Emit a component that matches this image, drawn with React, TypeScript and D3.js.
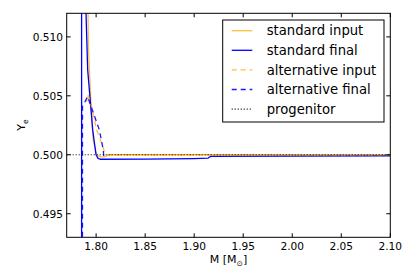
import React from 'react';
import * as d3 from 'd3';

// mass coordinate [Msun], electron fraction Ye
const standardInputM = [1.7905, 1.7922, 1.7945, 1.7969, 1.7999, 1.802, 1.805, 1.808, 1.811, 1.8133, 2.1];
const standardInputY = [0.52, 0.5089, 0.5048, 0.50127, 0.50024, 0.4999, 0.49982, 0.49982, 0.4999, 0.5, 0.5];

const standardFinalM = [1.7852, 1.7852, 1.7869, 1.7897, 1.7914, 1.7965, 1.7999, 1.802, 1.804, 1.85, 1.9, 1.9143, 1.9165, 2.0, 2.1];
const standardFinalY = [0.49, 0.52, 0.52, 0.512, 0.5072, 0.50211, 0.5, 0.4997, 0.49962, 0.49963, 0.49968, 0.49972, 0.49986, 0.49988, 0.4999];

const altInputM = [1.7903, 1.7913, 1.795, 1.8006, 1.805, 1.809, 1.8115, 2.1];
const altInputY = [0.5045, 0.50516, 0.5042, 0.5021, 0.5011, 0.50014, 0.5, 0.5];

const altFinalM = [1.7861, 1.7861, 1.7913, 1.797, 1.8033, 1.8073, 1.8078];
const altFinalY = [0.49, 0.50409, 0.50493, 0.5036, 0.50211, 0.50042, 0.4999];

const progenitorM = [1.77, 2.1];
const progenitorY = [0.5, 0.5];

const xTicks = [1.8, 1.85, 1.9, 1.95, 2.0, 2.05, 2.1];
const yTicks = [0.495, 0.5, 0.505, 0.51];

const legendLabels = ['standard input', 'standard final', 'alternative input', 'alternative final', 'progenitor'];

const ORANGE = '#ffa500';
const BLUE = '#0000ff';

const App: React.FC = () => {
  const left = 66.7, right = 390.3, top = 13.3, bottom = 237.3;
  const x = d3.scaleLinear().domain([1.77, 2.1]).range([left, right]);
  const y = d3.scaleLinear().domain([0.493, 0.512]).range([bottom, top]);

  const mkLine = (ms: number[], ys: number[]) =>
    d3.line<number>().x((d, i) => x(ms[i])).y((d, i) => y(ys[i]))(ms) || '';

  const series = [
    { d: mkLine(standardInputM, standardInputY), color: ORANGE, dash: undefined, op: 0.75, w: 1.3 },
    { d: mkLine(standardFinalM, standardFinalY), color: BLUE, dash: undefined, op: 1, w: 1.3 },
    { d: mkLine(altInputM, altInputY), color: ORANGE, dash: '5,4', op: 0.75, w: 1.3 },
    { d: mkLine(altFinalM, altFinalY), color: BLUE, dash: '5,4', op: 0.9, w: 1.3 },
    { d: mkLine(progenitorM, progenitorY), color: '#000', dash: '1,2', op: 1, w: 1.1 },
  ];

  const font = 'DejaVu Sans, sans-serif';
  const tl = 4;

  return (
    <svg width={415} height={280} style={{ position: 'absolute', left: 0, top: 0, background: '#fff' }} fontFamily={font}>
      <defs>
        <clipPath id="plotclip">
          <rect x={left} y={top} width={right - left} height={bottom - top} />
        </clipPath>
      </defs>
      <rect x={0} y={0} width={415} height={280} fill="#fff" />
      <g clipPath="url(#plotclip)">
        {series.map((s, i) => (
          <path key={i} d={s.d} fill="none" stroke={s.color} strokeOpacity={s.op} strokeWidth={s.w}
            strokeDasharray={s.dash} strokeLinejoin="round" />
        ))}
      </g>
      <rect x={left} y={top} width={right - left} height={bottom - top} fill="none" stroke="#000" strokeWidth={1} />
      {xTicks.map((t) => (
        <g key={'x' + t}>
          <line x1={x(t)} x2={x(t)} y1={bottom} y2={bottom - tl} stroke="#000" />
          <line x1={x(t)} x2={x(t)} y1={top} y2={top + tl} stroke="#000" />
          <text x={x(t)} y={249.5} fontSize={10.6} textAnchor="middle">{t.toFixed(2)}</text>
        </g>
      ))}
      {yTicks.map((t) => (
        <g key={'y' + t}>
          <line x1={left} x2={left + tl} y1={y(t)} y2={y(t)} stroke="#000" />
          <line x1={right} x2={right - tl} y1={y(t)} y2={y(t)} stroke="#000" />
          <text x={63} y={y(t) + 3.8} fontSize={10.6} textAnchor="end">{t.toFixed(3)}</text>
        </g>
      ))}
      <text x={228.5} y={263} fontSize={11} textAnchor="middle">
        M [M<tspan fontSize={7.5} dy={2.5}>⊙</tspan><tspan dy={-2.5}>]</tspan>
      </text>
      <text transform="translate(25,125) rotate(-90)" fontSize={11} textAnchor="middle">
        Y<tspan fontSize={7.5} dy={2.5}>e</tspan>
      </text>
      <g>
        <rect x={222.7} y={20} width={161.3} height={102} fill="#fff" stroke="#000" strokeWidth={1} />
        {legendLabels.map((lab, i) => {
          const ly = 30.7 + i * 19.6;
          const s = series[i];
          return (
            <g key={lab}>
              <line x1={231.7} x2={252.3} y1={ly} y2={ly} stroke={s.color} strokeOpacity={s.op}
                strokeWidth={s.w} strokeDasharray={s.dash} />
              <text x={266.7} y={ly + 4.6} fontSize={13.2}>{lab}</text>
            </g>
          );
        })}
      </g>
    </svg>
  );
};

export default App;
